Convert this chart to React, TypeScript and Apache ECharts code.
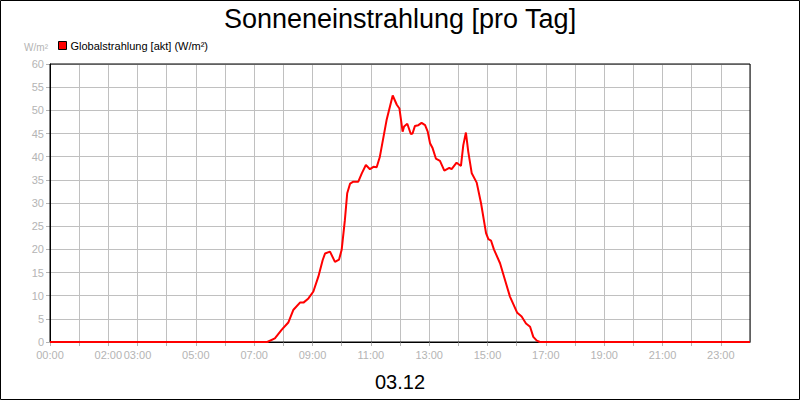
import React, { useEffect, useRef } from "react";
import * as echarts from "echarts";

const TITLE = "Sonneneinstrahlung [pro Tag]";
const SERIES_NAME = "Globalstrahlung [akt] (W/m²)";
const UNIT = "W/m²";
const DATE_LABEL = "03.12";

// time of day in hours
const hours = [
  0, 7.45, 7.71, 7.94, 8.17, 8.34, 8.57, 8.69, 8.86, 9.03, 9.2, 9.35, 9.43, 9.6,
  9.77, 9.91, 10.0, 10.11, 10.19, 10.29, 10.4, 10.57, 10.69, 10.83, 10.97, 11.09,
  11.2, 11.31, 11.54, 11.75, 11.77, 11.89, 11.98, 12.09, 12.14, 12.25, 12.37,
  12.43, 12.51, 12.63, 12.74, 12.86, 12.95, 13.03, 13.12, 13.23, 13.37, 13.52,
  13.69, 13.77, 13.94, 14.09, 14.17, 14.26, 14.34, 14.46, 14.63, 14.78, 14.95,
  15.03, 15.12, 15.22, 15.43, 15.6, 15.77, 16.02, 16.17, 16.32, 16.46, 16.57,
  16.69, 16.8, 24,
];
// global radiation W/m²
const radiation = [
  0, 0, 0.8, 2.6, 4.2, 6.9, 8.5, 8.5, 9.4, 10.9, 14.1, 17.7, 19.1, 19.5,
  17.3, 17.8, 19.9, 26.3, 32.1, 34.2, 34.6, 34.6, 36.4, 38.2, 37.3, 37.8,
  37.7, 40, 47.9, 53.2, 53.2, 51.2, 50.4, 45.4, 46.5, 47.1, 44.9,
  45, 46.6, 46.8, 47.3, 46.8, 45.4, 42.9, 41.8, 39.6, 39.1, 37,
  37.6, 37.3, 38.7, 38, 42.5, 45.2, 41.1, 36.4, 34.4, 29.9, 23.5,
  22.2, 21.9, 20, 17, 13.4, 9.8, 6.3, 5.5, 4, 3.3, 1.1,
  0.3, 0, 0,
];
const labelledHours = [0, 2, 3, 5, 7, 9, 11, 13, 15, 17, 19, 21, 23];

const GRAY = "#b4b4b4";
const GRID = "#c0c0c0";
const FONT = "'Liberation Sans', Arial, sans-serif";

export default function App() {
  const ref = useRef<HTMLDivElement>(null);
  useEffect(() => {
    if (!ref.current) return;
    const chart = echarts.init(ref.current, null, { renderer: "svg" });
    const left = 50, top = 64, width = 700, height = 278;
    chart.setOption({
      animation: false,
      backgroundColor: "#fff",
      textStyle: { fontFamily: FONT },
      title: {
        text: TITLE,
        left: "center",
        top: 0,
        textStyle: { fontSize: 27, fontWeight: "normal", color: "#000", fontFamily: FONT },
      },
      legend: {
        left: 53,
        top: 35,
        icon: "rect",
        itemWidth: 8,
        itemHeight: 8,
        itemGap: 4,
        textStyle: { fontSize: 11, color: "#000", fontFamily: FONT, padding: [0, 0, 0, -1] },
        itemStyle: { borderColor: "#000", borderWidth: 1 },
        data: [SERIES_NAME],
      },
      grid: { left, top, width, height, containLabel: false },
      xAxis: {
        type: "value",
        min: 0,
        max: 24,
        interval: 1,
        name: DATE_LABEL,
        nameLocation: "middle",
        nameGap: 30,
        nameTextStyle: { fontSize: 20, color: "#000", fontFamily: FONT },
        axisLine: { show: true, lineStyle: { color: "#000", width: 1 } },
        axisTick: { show: true, length: 4, lineStyle: { color: GRAY } },
        axisLabel: {
          color: GRAY,
          fontSize: 11,
          margin: 7,
          fontFamily: FONT,
          showMaxLabel: false,
          formatter: (v: number) =>
            labelledHours.includes(v) ? String(v).padStart(2, "0") + ":00" : "",
        },
        splitLine: { show: true, lineStyle: { color: GRID, width: 1 } },
      },
      yAxis: {
        type: "value",
        min: 0,
        max: 60,
        interval: 5,
        name: UNIT,
        nameLocation: "end",
        nameGap: 12,
        nameTextStyle: { fontSize: 10, color: GRAY, align: "right", fontFamily: FONT, padding: [0, 2, 0, 0] },
        axisLine: { show: true, lineStyle: { color: "#000", width: 1 } },
        axisTick: { show: true, length: 4, lineStyle: { color: GRAY } },
        axisLabel: { color: GRAY, fontSize: 11, margin: 6, fontFamily: FONT },
        splitLine: { show: true, lineStyle: { color: GRID, width: 1 } },
      },
      series: [
        {
          name: SERIES_NAME,
          type: "line",
          data: hours.map((h, i) => [h, radiation[i]]),
          showSymbol: false,
          symbol: "none",
          lineStyle: { color: "#ff0000", width: 2 },
          itemStyle: { color: "#ff0000" },
          z: 3,
        },
      ],
      graphic: [
        {
          type: "rect",
          z: 2,
          silent: true,
          shape: { x: left, y: top, width, height },
          style: { fill: "none", stroke: "#000", lineWidth: 1 },
        },
        {
          type: "rect",
          z: 10,
          silent: true,
          shape: { x: 0.5, y: 0.5, width: 799, height: 399 },
          style: { fill: "none", stroke: "#000", lineWidth: 1 },
        },
      ],
    });
    return () => chart.dispose();
  }, []);
  return (
    <div
      ref={ref}
      style={{ position: "fixed", left: 0, top: 0, width: 800, height: 400 }}
    />
  );
}
